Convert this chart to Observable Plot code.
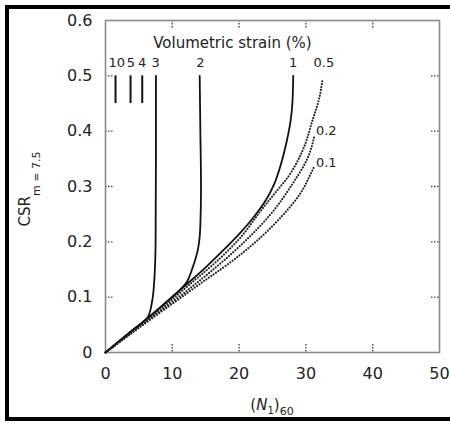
<!DOCTYPE html>
<html><head><meta charset="utf-8">
<script src="https://cdn.jsdelivr.net/npm/d3@7"></script>
<script src="https://cdn.jsdelivr.net/npm/@observablehq/plot@0.6"></script>
<style>
html,body{margin:0;padding:0;background:#fff;}
#wrap{position:relative;width:450px;height:423px;overflow:hidden;}
#chart{position:absolute;left:0;top:0;}
#border{position:absolute;left:5px;top:5px;width:460px;height:416px;border-left:4px solid #000;border-top:4px solid #000;border-bottom:4px solid #000;box-sizing:border-box;pointer-events:none;}
</style></head>
<body>
<div id="wrap"><div id="chart"></div><div id="border"></div></div>
<script>
// ---- data ----
const xTicks = [0, 10, 20, 30, 40, 50];
const yTicks = [0, 0.1, 0.2, 0.3, 0.4, 0.5, 0.6];
const innerXTicks = [10, 20, 30, 40];
const innerYTicks = [0.1, 0.2, 0.3, 0.4, 0.5];

// solid curves: volumetric strain 3 %, 2 %, 1 %
const strain3 = [[0,0],[2,0.02],[4,0.04],[5.5,0.054],[6.35,0.064],[7.0,0.094],[7.3,0.13],[7.5,0.2],[7.55,0.35],[7.55,0.5]];
const strain2 = [[0,0],[3,0.03],[5.5,0.054],[9,0.09],[12.2,0.128],[13.0,0.152],[13.8,0.184],[14.2,0.23],[14.3,0.3],[14.2,0.4],[14.1,0.5]];
const strain1 = [[0,0],[3,0.03],[5.5,0.054],[9,0.09],[12.5,0.127],[15,0.154],[17.3,0.181],[20,0.214],[22.2,0.245],[24,0.275],[25.2,0.303],[26.3,0.342],[27.1,0.38],[27.7,0.418],[28,0.455],[28.1,0.5]];
// dotted curves: 0.5 %, 0.2 %, 0.1 %
const strain05 = [[0,0],[6,0.056],[13,0.127],[17.3,0.172],[20,0.205],[23.3,0.257],[25.5,0.29],[27.3,0.317],[29.5,0.365],[31,0.42],[32,0.46],[32.5,0.495]];
const strain02 = [[0,0],[6,0.055],[13.8,0.127],[19,0.18],[24.8,0.251],[28,0.305],[30.2,0.35],[31.3,0.392]];
const strain01 = [[0,0],[6.2,0.055],[14.5,0.127],[20,0.175],[26.3,0.245],[29.3,0.29],[30.8,0.325],[31.2,0.335]];

// short segments for 10 %, 5 %, 4 %
const shortX = [1.5, 3.75, 5.5];
const shortY1 = 0.45, shortY2 = 0.5;

// labels at the top
const topLabels = ["10", "5", "4", "3", "2", "1", "0.5"];
const topLabelX = [1.7, 3.8, 5.5, 7.5, 14.2, 28.1, 32.7];
const sideLabels = ["0.2", "0.1"];
const sideLabelY = [0.401, 0.342];

const W = 450, H = 423, mL = 105, mR = 11, mT = 20, mB = 71, tickLen = 8;
const innerW = W - mL - mR, innerH = H - mT - mB;

const fmt = d3.format("~g");
const solidStyle = {x: d => d[0], y: d => d[1], stroke: "#111", strokeWidth: 1.8, curve: "monotone-y"};
const dotStyle = {x: d => d[0], y: d => d[1], stroke: "#222", strokeWidth: 2.1, strokeDasharray: "0.1 2.8", strokeLinecap: "round", curve: "monotone-y"};
const tickStyle = {stroke: "#444", strokeWidth: 1.4, strokeDasharray: "1.5 1.5"};

const chart = Plot.plot({
  width: W, height: H,
  marginLeft: mL, marginRight: mR, marginTop: mT, marginBottom: mB,
  style: {fontFamily: "'DejaVu Sans', sans-serif", fontSize: "16px", background: "#fff", color: "#222"},
  x: {domain: [0, 50]},
  y: {domain: [0, 0.6]},
  marks: [
    Plot.axisX({ticks: xTicks, tickSize: 0, tickPadding: 15, tickFormat: fmt, label: null, fontSize: 16}),
    Plot.axisY({ticks: yTicks, tickSize: 0, tickPadding: 13, tickFormat: fmt, label: null, fontSize: 16}),
    Plot.ruleX(innerXTicks, {x: d => d, insetTop: innerH - tickLen, ...tickStyle}),
    Plot.ruleX(innerXTicks, {x: d => d, insetBottom: innerH - tickLen, ...tickStyle}),
    Plot.ruleY(innerYTicks, {y: d => d, insetRight: innerW - tickLen, ...tickStyle}),
    Plot.ruleY(innerYTicks, {y: d => d, insetLeft: innerW - tickLen, ...tickStyle}),
    Plot.frame({stroke: "#8a8a8a", strokeWidth: 1.6}),
    Plot.line(strain3, solidStyle),
    Plot.line(strain2, solidStyle),
    Plot.line(strain1, solidStyle),
    Plot.line(strain05, dotStyle),
    Plot.line(strain02, dotStyle),
    Plot.line(strain01, dotStyle),
    Plot.ruleX(shortX, {y1: shortY1, y2: shortY2, stroke: "#111", strokeWidth: 2}),
    Plot.text(topLabels, {x: (d, i) => topLabelX[i], y: 0.524, text: d => d, fontSize: 13, fill: "#222"}),
    Plot.text(sideLabels, {x: 31.5, y: (d, i) => sideLabelY[i], text: d => d, textAnchor: "start", fontSize: 13, fill: "#222"}),
    Plot.text(["Volumetric strain (%)"], {x: 19, y: 0.559, text: d => d, fontSize: 15, fill: "#222"})
  ]
});
document.getElementById("chart").appendChild(chart);

// axis titles with sub-scripts
const svg = d3.select(chart);
const yl = svg.append("text")
  .attr("transform", "translate(30,189) rotate(-90)")
  .attr("text-anchor", "middle")
  .attr("fill", "#222")
  .style("font-size", "15px");
yl.append("tspan").text("CSR");
yl.append("tspan").attr("dy", 10).style("font-size", "11px").text("m = 7.5");

const xl = svg.append("text")
  .attr("x", 272).attr("y", 410)
  .attr("text-anchor", "middle")
  .attr("fill", "#222")
  .style("font-size", "15px");
xl.append("tspan").text("(");
xl.append("tspan").style("font-style", "italic").text("N");
xl.append("tspan").attr("dy", 4).style("font-size", "10px").text("1");
xl.append("tspan").attr("dy", -4).text(")");
xl.append("tspan").attr("dy", 5).style("font-size", "11px").text("60");
</script>
</body></html>
